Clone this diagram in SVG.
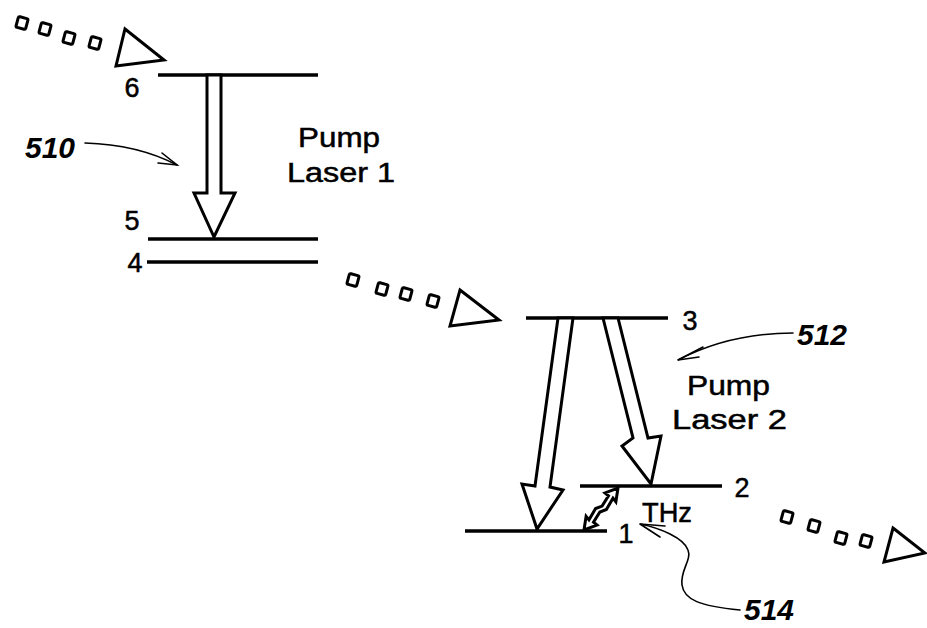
<svg xmlns="http://www.w3.org/2000/svg" width="927" height="628" viewBox="0 0 927 628">
<style>
.lvl{stroke:#000;stroke-width:3.3;fill:none}
.arr{stroke:#000;stroke-width:3;fill:#fff;stroke-linejoin:miter}
.sq{stroke:#000;stroke-width:3;fill:#fff}
.tri{stroke:#000;stroke-width:3;fill:#fff;stroke-linejoin:miter}
.lead{stroke:#000;stroke-width:1.6;fill:none;stroke-linecap:round}
.t{font-family:"Liberation Sans",Arial,sans-serif;font-size:27px;fill:#000;stroke:#000;stroke-width:0.5}
.ref{font-family:"Liberation Sans",Arial,sans-serif;font-size:30px;font-weight:bold;font-style:italic;fill:#000}
</style>
<rect width="927" height="628" fill="#fff"/>
<g id="level-6"><line class="lvl" x1="158" y1="75" x2="318" y2="75"/><text class="t" x="132" y="97" text-anchor="middle">6</text></g>
<g id="level-5"><line class="lvl" x1="148" y1="239" x2="318" y2="239"/><text class="t" x="132" y="230" text-anchor="middle">5</text></g>
<g id="level-4"><line class="lvl" x1="147" y1="262" x2="318" y2="262"/><text class="t" x="135" y="272" text-anchor="middle">4</text></g>
<g id="level-3"><line class="lvl" x1="526" y1="318" x2="668" y2="318"/><text class="t" x="690" y="330" text-anchor="middle">3</text></g>
<g id="level-2"><line class="lvl" x1="580" y1="486" x2="722" y2="486"/><text class="t" x="742" y="497" text-anchor="middle">2</text></g>
<g id="level-1"><line class="lvl" x1="465" y1="531" x2="607" y2="531"/><text class="t" x="626" y="543" text-anchor="middle">1</text></g>
<g id="label-pump1"><text class="t" x="298" y="147" textLength="82" lengthAdjust="spacingAndGlyphs">Pump</text><text class="t" x="287" y="182" textLength="108" lengthAdjust="spacingAndGlyphs">Laser  1</text></g>
<g id="label-pump2"><text class="t" x="687" y="395" textLength="83" lengthAdjust="spacingAndGlyphs">Pump</text><text class="t" x="672" y="429" textLength="115" lengthAdjust="spacingAndGlyphs">Laser  2</text></g>
<g id="label-thz"><text class="t" x="642" y="522" textLength="50" lengthAdjust="spacingAndGlyphs">THz</text></g>
<g id="ref-510"><text class="ref" x="25" y="158">510</text></g>
<g id="ref-512"><text class="ref" x="797" y="345">512</text></g>
<g id="ref-514"><text class="ref" x="744" y="620">514</text></g>
<g id="beam-1">
<rect class="sq" x="17" y="17.5" width="10" height="11" rx="1.5" transform="rotate(15 22 23)"/>
<rect class="sq" x="40" y="23.5" width="10" height="11" rx="1.5" transform="rotate(15 45 29)"/>
<rect class="sq" x="64" y="32.5" width="10" height="11" rx="1.5" transform="rotate(15 69 38)"/>
<rect class="sq" x="90" y="37.5" width="10" height="11" rx="1.5" transform="rotate(15 95 43)"/>
<polygon class="tri" points="125,29 164,60 116,66"/>
</g>
<g id="beam-2">
<rect class="sq" x="348" y="274.5" width="10" height="11" rx="1.5" transform="rotate(15 353 280)"/>
<rect class="sq" x="377" y="283.5" width="10" height="11" rx="1.5" transform="rotate(15 382 289)"/>
<rect class="sq" x="401" y="288.5" width="10" height="11" rx="1.5" transform="rotate(15 406 294)"/>
<rect class="sq" x="428" y="295.5" width="10" height="11" rx="1.5" transform="rotate(15 433 301)"/>
<polygon class="tri" points="460,290 499,320 450,326"/>
</g>
<g id="beam-3">
<rect class="sq" x="782" y="511.5" width="10" height="11" rx="1.5" transform="rotate(15 787 517)"/>
<rect class="sq" x="809" y="520.5" width="10" height="11" rx="1.5" transform="rotate(15 814 526)"/>
<rect class="sq" x="836" y="532.5" width="10" height="11" rx="1.5" transform="rotate(15 841 538)"/>
<rect class="sq" x="861" y="535.5" width="10" height="11" rx="1.5" transform="rotate(15 866 541)"/>
<polygon class="tri" points="893,528 925,553 884,562"/>
</g>
<g id="connectors">
<polygon class="arr" points="207,75 207,193 194,193 214,237 235,193 221,193 221,75"/>
<polygon class="arr" points="558,318 535,486 522,484 537,529 563,490 550,487 573,318"/>
<polygon class="arr" points="603,318 633,438 622,446 651,484 661,436 648,438 618,318"/>
<path class="arr" stroke-width="2.2" transform="translate(584,530) rotate(-51)" d="M0,0 L12,-7 L11,-2.5 L24,-4.5 L30,-1 L42,-2.5 L42,-7 L54,0 L42,7 L43,2.5 L30,4.5 L24,1 L12,2.5 L12,7 Z"/>
<path class="lead" d="M85,143 C120,144 150,151 177,165"/>
<path class="lead" d="M162,153 L177,165 L158,163"/>
<path class="lead" d="M793,333 C760,333 720,338 678,360"/>
<path class="lead" d="M703,347 L678,360 L699,357"/>
<path class="lead" d="M740,610 C700,606 684,600 682,585 C680,570 692,560 688,550 C684,538 660,528 640,524"/>
<path class="lead" d="M665,526 L640,524 L660,537"/>
</g>
</svg>
